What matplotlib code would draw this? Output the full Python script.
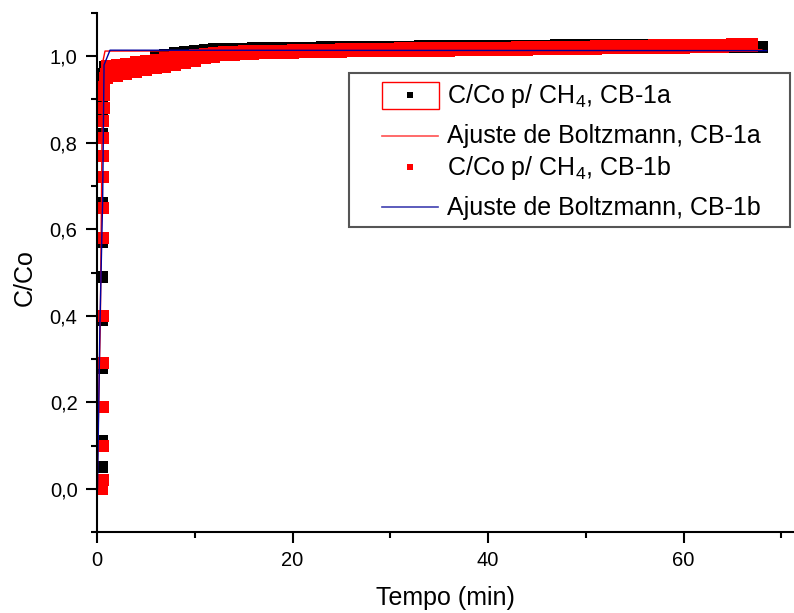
import numpy as np
import matplotlib
matplotlib.use('Agg')
import matplotlib.pyplot as plt
from matplotlib.lines import Line2D
from matplotlib.patches import Rectangle
from matplotlib.ticker import MultipleLocator, FuncFormatter

plt.rcParams['font.family'] = ['Liberation Sans', 'DejaVu Sans']
plt.rcParams['mathtext.default'] = 'regular'

#--- rising part of the breakthrough curves (t in min)
cb1a_rise_t = [0.5, 0.55, 0.55, 0.5, 0.5, 0.5, 0.5, 0.5, 0.5, 0.5, 0.5, 0.5, 0.5, 0.5, 0.55, 0.6, 0.7, 0.8]
cb1a_rise_y = [0.0, 0.05, 0.11, 0.19, 0.28, 0.39, 0.49, 0.57, 0.66, 0.72, 0.77, 0.82, 0.86, 0.89, 0.92, 0.94, 0.96, 0.975]
cb1b_rise_t = [0.55, 0.6, 0.6, 0.6, 0.6, 0.6, 0.6, 0.6, 0.6, 0.6, 0.65, 0.65, 0.7, 0.7, 0.75, 0.8, 0.9]
cb1b_rise_y = [0.0, 0.02, 0.10, 0.19, 0.29, 0.40, 0.58, 0.65, 0.72, 0.77, 0.81, 0.85, 0.88, 0.91, 0.93, 0.95, 0.96]

#--- plateau, one sample per minute
cb1a_t = np.arange(1, 69)
cb1a_y = [0.975, 0.976, 0.977, 0.980, 0.990, 0.998, 1.003, 1.007, 1.010, 1.013,
          1.015, 1.016, 1.016, 1.017, 1.017, 1.018, 1.018, 1.019, 1.019, 1.020,
          1.020, 1.020, 1.021, 1.021, 1.021, 1.021, 1.022, 1.022, 1.022, 1.022,
          1.022, 1.022, 1.023, 1.023, 1.023, 1.023, 1.023, 1.023, 1.024, 1.024,
          1.024, 1.024, 1.024, 1.024, 1.024, 1.024, 1.025, 1.025, 1.025, 1.025,
          1.025, 1.025, 1.025, 1.025, 1.025, 1.025, 1.025, 1.024, 1.024, 1.024,
          1.024, 1.023, 1.023, 1.023, 1.022, 1.022, 1.022, 1.022]
cb1b_t = np.arange(1, 68)
cb1b_lo = [0.950, 0.955, 0.960, 0.964, 0.968, 0.972, 0.976, 0.980, 0.985, 0.990,
           0.995, 0.999, 1.002, 1.004, 1.005, 1.006, 1.007, 1.007, 1.008, 1.008,
           1.009, 1.009, 1.010, 1.010, 1.010, 1.011, 1.011, 1.011, 1.012, 1.012,
           1.012, 1.012, 1.013, 1.013, 1.013, 1.013, 1.014, 1.014, 1.014, 1.014,
           1.015, 1.015, 1.015, 1.015, 1.016, 1.016, 1.016, 1.016, 1.017, 1.017,
           1.017, 1.018, 1.018, 1.018, 1.019, 1.019, 1.019, 1.020, 1.020, 1.020,
           1.021, 1.021, 1.022, 1.022, 1.023, 1.023, 1.024]
cb1b_hi = [0.978, 0.980, 0.983, 0.986, 0.989, 0.992, 0.995, 0.998, 1.001, 1.004,
           1.006, 1.008, 1.009, 1.010, 1.011, 1.012, 1.012, 1.013, 1.013, 1.014,
           1.014, 1.015, 1.015, 1.015, 1.016, 1.016, 1.016, 1.017, 1.017, 1.017,
           1.018, 1.018, 1.018, 1.018, 1.019, 1.019, 1.019, 1.019, 1.020, 1.020,
           1.020, 1.020, 1.021, 1.021, 1.021, 1.021, 1.022, 1.022, 1.022, 1.022,
           1.023, 1.023, 1.023, 1.024, 1.024, 1.024, 1.025, 1.025, 1.025, 1.026,
           1.026, 1.026, 1.027, 1.027, 1.028, 1.028, 1.029]

#--- Boltzmann fits (as drawn)
fit_a_t = [0.0, 0.35, 0.55, 0.62, 0.82, 68.0]
fit_a_y = [0.0, 0.40, 0.90, 0.99, 1.012, 1.015]
fit_b_t = [0.05, 0.3, 0.58, 0.72, 1.33, 68.5]
fit_b_y = [0.0, 0.38, 0.67, 0.98, 1.014, 1.013]

fig = plt.figure(figsize=(7.94, 6.13), dpi=100)
ax = fig.add_axes([97/794, 81/613, 697/794, 519/613])

ms = 8
ax.plot(cb1a_rise_t, cb1a_rise_y, 's', color='black', ms=ms, mew=0, clip_on=False)
ax.plot(cb1a_t, cb1a_y, 's', color='black', ms=ms, mew=0)
ax.plot(cb1b_rise_t, cb1b_rise_y, 's', color='red', ms=ms, mew=0, clip_on=False)
ax.plot(cb1b_t, cb1b_lo, 's', color='red', ms=ms, mew=0)
ax.plot(cb1b_t, cb1b_hi, 's', color='red', ms=ms, mew=0)
ax.plot(fit_a_t, fit_a_y, '-', color='red', lw=1)
ax.plot(fit_b_t, fit_b_y, '-', color='#0000a0', lw=1)

ax.set_xlim(0, 71.3)
ax.set_ylim(-0.1, 1.1)
ax.xaxis.set_major_locator(MultipleLocator(20))
ax.xaxis.set_minor_locator(MultipleLocator(10))
ax.yaxis.set_major_locator(MultipleLocator(0.2))
ax.yaxis.set_minor_locator(MultipleLocator(0.1))
ax.yaxis.set_major_formatter(FuncFormatter(lambda v, p: ('%.1f' % v).replace('.', ',')))
ax.spines['top'].set_visible(False)
ax.spines['right'].set_visible(False)
for s in ['left', 'bottom']:
    ax.spines[s].set_linewidth(1.5)
ax.tick_params(which='major', direction='out', length=8, width=1.5, labelsize=14.5, pad=6)
ax.tick_params(which='minor', direction='out', length=4.5, width=1.5)

ax.set_xlabel('Tempo (min)', fontsize=18)
ax.set_ylabel('C/Co', fontsize=18)
ax.xaxis.set_label_coords(0.5, -0.105)
ax.yaxis.set_label_coords(-0.087, 0.49)

#--- legend drawn by hand (Origin style)
def fy(y):
    return 1 - y / 613.0

fig.patches.append(Rectangle((349/794, fy(227)), 441/794, 154/613, transform=fig.transFigure,
                             fill=False, edgecolor='#555555', lw=1.5))
fig.patches.append(Rectangle((382/794, fy(109)), 57/794, 27/613, transform=fig.transFigure,
                             fill=False, edgecolor='red', lw=1))
labels = ['C/Co p/ CH$_4$, CB-1a', 'Ajuste de Boltzmann, CB-1a',
          'C/Co p/ CH$_4$, CB-1b', 'Ajuste de Boltzmann, CB-1b']
baselines = [103, 143, 175, 215]
centers = [95, 136, 167, 207]
fig.lines.append(Line2D([410/794], [fy(centers[0])], marker='s', color='black', ms=5, mew=0,
                        transform=fig.transFigure))
fig.lines.append(Line2D([382/794, 438/794], [fy(centers[1])] * 2, color='#ff5050', lw=1.2,
                        transform=fig.transFigure))
fig.lines.append(Line2D([410/794], [fy(centers[2])], marker='s', color='red', ms=5, mew=0,
                        transform=fig.transFigure))
fig.lines.append(Line2D([382/794, 438/794], [fy(centers[3])] * 2, color='#4040b0', lw=1.2,
                        transform=fig.transFigure))
for lab, b in zip(labels, baselines):
    fig.text(447/794, fy(b), lab, fontsize=18, va='baseline', ha='left')

fig.savefig('out.png', dpi=100)
